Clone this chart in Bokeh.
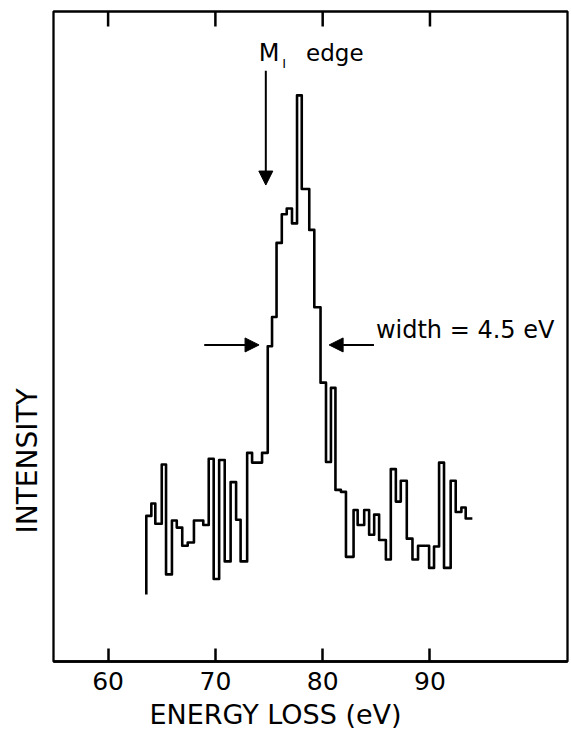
from bokeh.plotting import figure
from bokeh.models import Range1d, FixedTicker, Label, Arrow, NormalHead, Title
from bokeh.embed import file_html
from bokeh.resources import INLINE

# ---- data ----
# bin edges of the step spectrum, energy loss in eV
edges_ev = [63.56, 64.03, 64.40, 65.00, 65.40, 65.95, 66.40, 66.91, 67.42, 68.00,
            68.45, 68.87, 69.38, 69.84, 70.35, 70.87, 71.42, 71.93, 72.35, 72.96,
            73.42, 73.89, 74.35, 74.88, 75.28, 75.70, 76.19, 76.65, 77.14, 77.61,
            78.05, 78.40, 78.75, 79.22, 79.80, 80.31, 80.77, 81.19, 81.70, 82.17,
            82.88, 83.26, 83.87, 84.33, 84.80, 85.26, 85.89, 86.35, 86.82, 87.28,
            87.84, 88.37, 88.89, 89.40, 89.92, 90.38, 90.85, 91.31, 91.93, 92.40,
            92.93, 93.33, 93.95]
# intensity (arbitrary units) in each bin
intensity = [22.4, 24.3, 21.2, 30.3, 13.4, 21.7, 20.6, 17.8, 18.3, 21.7,
             21.7, 21.0, 31.2, 12.7, 31.0, 15.4, 27.6, 21.8, 15.4, 32.1,
             30.6, 30.6, 32.1, 48.5, 53.0, 64.4, 68.8, 69.7, 67.4, 87.1,
             72.7, 72.7, 66.4, 54.5, 42.9, 30.7, 42.1, 26.4, 26.1, 16.1,
             23.3, 21.0, 23.3, 19.5, 22.6, 18.7, 15.7, 29.6, 24.6, 27.8,
             18.9, 15.7, 17.8, 17.8, 14.4, 17.7, 30.6, 14.4, 27.8, 23.0,
             23.7, 22.0]
start_level = 10.3
x_ticks = [60, 70, 80, 90]

# annotation positions (eV / intensity units)
edge_energy = 74.7
fwhm_left = 74.07
fwhm_right = 80.6
fwhm_level = 48.7

# ---- build step path ----
xs = [edges_ev[0]]
ys = [start_level]
for i, v in enumerate(intensity):
    xs += [edges_ev[i], edges_ev[i + 1]]
    ys += [v, v]

FONT = "DejaVu Sans"
Y_TOP = 100.0
TOP_TICK = 15 / 6.51   # top tick length in data units (15 px)

p = figure(width=571, height=733, output_backend="svg", toolbar_location=None,
           x_range=Range1d(54.91, 102.82), y_range=Range1d(0, Y_TOP),
           y_axis_location=None,
           min_border_left=52, min_border_right=4, min_border_top=11, min_border_bottom=71,
           background_fill_color="white", border_fill_color="white")
p.grid.visible = False
p.outline_line_color = "black"
p.outline_line_width = 2.3
p.outline_line_alpha = 1.0

ax = p.xaxis[0]
ax.ticker = FixedTicker(ticks=x_ticks, minor_ticks=[])
ax.major_tick_in = 13
ax.major_tick_out = 0
ax.minor_tick_in = 0
ax.minor_tick_out = 0
ax.major_tick_line_width = 2.5
ax.major_tick_line_color = "black"
ax.axis_line_width = 2.5
ax.axis_line_color = "black"
ax.major_label_text_font = FONT
ax.major_label_text_font_size = "25px"
ax.major_label_text_color = "black"
ax.major_label_standoff = 10

# inward ticks hanging from the top border
p.segment(x0=x_ticks, x1=x_ticks, y0=[Y_TOP] * len(x_ticks),
          y1=[Y_TOP - TOP_TICK] * len(x_ticks), line_color="black", line_width=2.5)

p.line(xs, ys, line_color="black", line_width=2.6, line_join="round")

# axis titles (as side-panel titles so they can be offset like the original)
p.add_layout(Title(text="ENERGY LOSS (eV)", align="left", offset=96, vertical_align="bottom",
                   standoff=8, text_font=FONT, text_font_size="27px",
                   text_font_style="normal", text_color="black"), "below")
p.add_layout(Title(text="INTENSITY", align="left", offset=128, vertical_align="middle",
                   standoff=18, text_font=FONT, text_font_size="28px",
                   text_font_style="normal", text_color="black"), "left")

# M_I edge annotation
p.add_layout(Label(x=74.05, y=93.55, text="M", text_align="left", text_baseline="alphabetic",
                   text_font=FONT, text_font_size="24px", text_color="black"))
p.add_layout(Label(x=76.40, y=92.0, text="I", text_align="center", text_baseline="alphabetic",
                   text_font=FONT, text_font_size="13px", text_color="black"))
p.add_layout(Label(x=78.45, y=93.55, text="edge", text_align="left", text_baseline="alphabetic",
                   text_font=FONT, text_font_size="23px", text_color="black"))
p.add_layout(Arrow(x_start=edge_energy, y_start=90.9, x_end=edge_energy, y_end=73.3,
                   line_width=2, line_color="black",
                   end=NormalHead(size=14, fill_color="black", line_color="black")))

# width annotation
p.add_layout(Label(x=84.96, y=51.0, text="width = 4.5 eV", text_align="left",
                   text_baseline="alphabetic", text_font=FONT, text_font_size="24px",
                   text_color="black"))
p.add_layout(Arrow(x_start=68.96, y_start=fwhm_level, x_end=fwhm_left, y_end=fwhm_level,
                   line_width=2, line_color="black",
                   end=NormalHead(size=14, fill_color="black", line_color="black")))
p.add_layout(Arrow(x_start=84.78, y_start=fwhm_level, x_end=fwhm_right, y_end=fwhm_level,
                   line_width=2, line_color="black",
                   end=NormalHead(size=14, fill_color="black", line_color="black")))

open("out.html", "w").write(file_html(p, INLINE))
